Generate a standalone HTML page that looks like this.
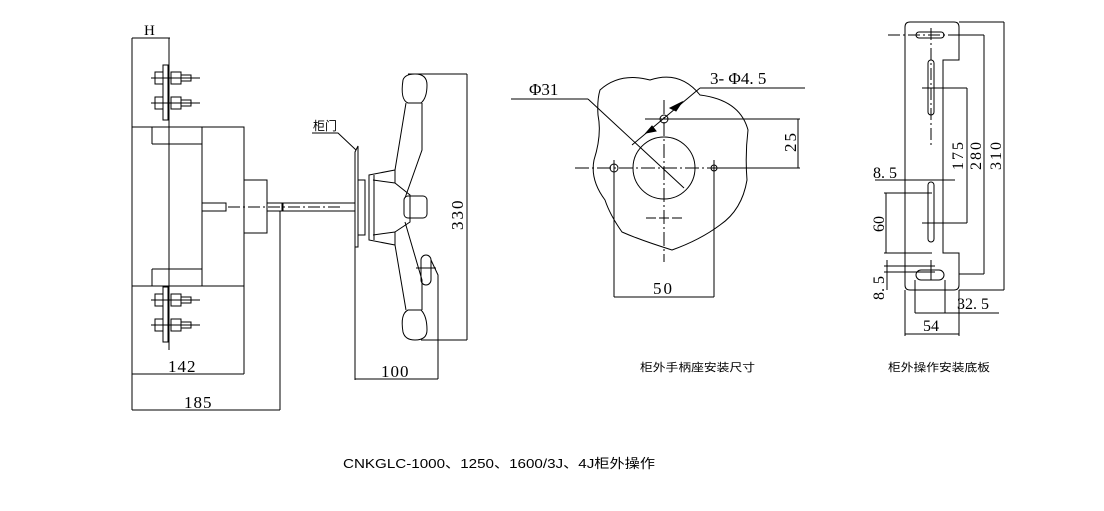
<!DOCTYPE html>
<html><head><meta charset="utf-8"><style>
body{margin:0;background:#fff;}
svg{display:block;}
text{font-family:"Liberation Serif","Noto Serif CJK SC",serif;fill:#000;}
.c{font-family:"Liberation Sans","Noto Sans CJK SC",sans-serif;}
</style></head><body>
<svg width="1104" height="511" viewBox="0 0 1104 511" xmlns="http://www.w3.org/2000/svg" fill="none" stroke="#000" stroke-width="1">
<!-- LEFT VIEW -->
<line x1="132" y1="38" x2="132" y2="410"/>
<line x1="132" y1="38" x2="170" y2="38"/>
<text x="144" y="35" font-size="15" stroke="none">H</text>
<line x1="169" y1="38" x2="169" y2="127"/>
<rect x="132" y="127" width="112" height="159"/>
<line x1="152" y1="127" x2="152" y2="144"/><line x1="152" y1="144" x2="202" y2="144"/>
<line x1="152" y1="269" x2="202" y2="269"/><line x1="152" y1="269" x2="152" y2="286"/>
<line x1="202" y1="127" x2="202" y2="286"/>
<line x1="169" y1="127" x2="169" y2="286"/>
<line x1="132" y1="286" x2="132" y2="374"/>
<line x1="244" y1="286" x2="244" y2="374"/>
<line x1="169" y1="286" x2="169" y2="350"/>
<g>
<rect x="163" y="65" width="5" height="55"/>
<rect x="155" y="72" width="8" height="12"/><rect x="171" y="72" width="10" height="12"/><rect x="181" y="75" width="10" height="6"/>
<line x1="151" y1="78" x2="200" y2="78"/>
<rect x="155" y="97" width="8" height="12"/><rect x="171" y="97" width="10" height="12"/><rect x="181" y="100" width="10" height="6"/>
<line x1="151" y1="103" x2="200" y2="103"/>
<rect x="163" y="287" width="5" height="55"/>
<rect x="155" y="294" width="8" height="12"/><rect x="171" y="294" width="10" height="12"/><rect x="181" y="297" width="10" height="6"/>
<line x1="151" y1="300" x2="200" y2="300"/>
<rect x="155" y="319" width="8" height="12"/><rect x="171" y="319" width="10" height="12"/><rect x="181" y="322" width="10" height="6"/>
<line x1="151" y1="325" x2="200" y2="325"/>
</g>
<line x1="132" y1="374" x2="244" y2="374"/>
<text x="168" y="372" font-size="17" stroke="none" letter-spacing="1">142</text>
<line x1="132" y1="410" x2="280" y2="410"/>
<line x1="280" y1="211" x2="280" y2="410"/>
<text x="184" y="408" font-size="17" stroke="none" letter-spacing="1">185</text>
<rect x="202" y="203" width="24" height="8"/>
<rect x="244" y="180" width="23" height="53"/>
<rect x="267" y="203" width="15" height="8"/>
<rect x="283" y="203" width="72" height="8"/>
<line x1="228" y1="207" x2="340" y2="207" stroke-dasharray="12,3,2,3"/>
<!-- door & wheel -->
<path d="M355 152 L358 146 L358 247 L355 247 Z"/>
<rect x="358" y="180" width="7" height="55"/>
<text x="313" y="130" font-size="12" stroke="none" class="c">柜门</text>
<path d="M312 133 L338 133 L356 150"/>
<path d="M369 175 L395 170 L395 183 L410 195 L410 222 L395 232 L395 245 L369 240 Z"/>
<line x1="373" y1="180" x2="395" y2="183"/><line x1="373" y1="235" x2="395" y2="232"/>
<line x1="374" y1="175" x2="374" y2="240"/>
<rect x="404" y="196" width="23" height="22" rx="4"/>
<path d="M395 170 L406 103 M422 103 L422 150 L405 198"/>
<path d="M395 245 L406 310 M422 310 L422 280 L405 222"/>
<path d="M408 103 Q400 100 403 80 Q405 74 415 74 Q427 74 427 85 Q427 98 421 103 Z"/>
<path d="M408 310 Q400 314 403 332 Q405 340 415 340 Q427 340 427 330 Q427 316 421 310 Z"/>
<rect x="421" y="255" width="10" height="30" rx="5"/>
<line x1="416" y1="268" x2="436" y2="268"/>
<path d="M431 260 L438 275 L438 379"/>
<line x1="408" y1="74" x2="467" y2="74"/><line x1="421" y1="340" x2="467" y2="340"/>
<line x1="467" y1="74" x2="467" y2="340"/>
<text x="0" y="0" font-size="17" stroke="none" transform="translate(463 230) rotate(-90)" letter-spacing="2">330</text>
<line x1="355" y1="247" x2="355" y2="380"/>
<line x1="355" y1="379" x2="438" y2="379"/>
<text x="381" y="377" font-size="17" stroke="none" letter-spacing="1">100</text>
<!-- MIDDLE -->
<path d="M600 90 Q620 72 650 80 Q680 70 700 95 Q740 100 748 130 Q745 155 747 180 Q742 210 720 225 Q700 240 672 250 Q640 240 622 232 Q610 215 605 200 Q590 180 594 160 Q602 135 598 115 Q597 100 600 90 Z"/>
<circle cx="664" cy="168" r="31"/>
<circle cx="664" cy="119" r="4"/><circle cx="614" cy="168" r="4"/><circle cx="714" cy="168" r="3"/>
<line x1="575" y1="168" x2="750" y2="168" stroke-dasharray="14,3,2,3"/>
<line x1="664" y1="100" x2="664" y2="262" stroke-dasharray="14,3,2,3"/>
<line x1="646" y1="218" x2="682" y2="218" stroke-dasharray="10,3"/>
<line x1="645" y1="119" x2="800" y2="119"/>
<line x1="614" y1="160" x2="614" y2="297"/><line x1="714" y1="160" x2="714" y2="297"/>
<line x1="614" y1="297" x2="714" y2="297"/>
<text x="653" y="294" font-size="17" stroke="none" letter-spacing="2">50</text>
<line x1="798" y1="119" x2="798" y2="168"/>
<line x1="714" y1="168" x2="800" y2="168"/>
<text x="0" y="0" font-size="17" stroke="none" transform="translate(796 152) rotate(-90)" letter-spacing="2">25</text>
<line x1="511" y1="99" x2="588" y2="99"/><line x1="588" y1="99" x2="684" y2="188"/>
<text x="529" y="95" font-size="17" stroke="none">Φ31</text>
<line x1="700" y1="88" x2="805" y2="88"/><line x1="700" y1="88" x2="632" y2="145"/>
<path d="M682 102 L676 111 L670 108 Z" fill="#000"/>
<path d="M646 133 L652 126 L656 131 Z" fill="#000"/>
<text x="710" y="84" font-size="17" stroke="none">3- Φ4. 5</text>
<text x="640" y="371" font-size="11" stroke="none" class="c" textLength="115" lengthAdjust="spacingAndGlyphs">柜外手柄座安装尺寸</text>
<!-- RIGHT -->
<path d="M910 22 L954 22 Q959 22 959 27 L959 60 L943 60 L943 253 L959 253 L959 285 Q959 290 954 290 L910 290 Q905 290 905 285 L905 27 Q905 22 910 22 Z"/>
<rect x="916" y="32" width="28" height="6" rx="3"/>
<rect x="928" y="60" width="6" height="55" rx="3"/>
<rect x="928" y="182" width="6" height="60" rx="3"/>
<rect x="916" y="270" width="28" height="10" rx="5"/>
<line x1="888" y1="35" x2="950" y2="35" stroke-dasharray="12,3,2,3"/>
<line x1="931" y1="28" x2="931" y2="148" stroke-dasharray="12,3,2,3"/>
<line x1="931" y1="260" x2="931" y2="280"/>
<line x1="922" y1="88" x2="967" y2="88"/><line x1="967" y1="88" x2="967" y2="223"/>
<line x1="922" y1="223" x2="967" y2="223"/>
<line x1="950" y1="35" x2="984" y2="35"/><line x1="984" y1="35" x2="984" y2="274"/>
<line x1="959" y1="274" x2="984" y2="274"/>
<line x1="959" y1="22" x2="1004" y2="22"/><line x1="1004" y1="22" x2="1004" y2="290"/>
<line x1="959" y1="290" x2="1004" y2="290"/>
<text x="0" y="0" font-size="16" stroke="none" transform="translate(963 170) rotate(-90)" letter-spacing="2">175</text>
<text x="0" y="0" font-size="16" stroke="none" transform="translate(981 170) rotate(-90)" letter-spacing="2">280</text>
<text x="0" y="0" font-size="16" stroke="none" transform="translate(1001 170) rotate(-90)" letter-spacing="2">310</text>
<line x1="875" y1="180" x2="955" y2="180"/>
<text x="873" y="178" font-size="16" stroke="none">8. 5</text>
<line x1="884" y1="193" x2="932" y2="193"/><line x1="884" y1="253" x2="932" y2="253"/>
<line x1="886" y1="193" x2="886" y2="253"/>
<text x="0" y="0" font-size="16" stroke="none" transform="translate(884 232) rotate(-90)">60</text>
<line x1="884" y1="266" x2="935" y2="266"/><line x1="884" y1="272" x2="935" y2="272"/>
<line x1="887" y1="260" x2="887" y2="290"/>
<text x="0" y="0" font-size="16" stroke="none" transform="translate(884 300) rotate(-90)">8. 5</text>
<line x1="915" y1="280" x2="915" y2="313"/><line x1="945" y1="280" x2="945" y2="313"/>
<line x1="915" y1="313" x2="999" y2="313"/>
<text x="957" y="309" font-size="16" stroke="none">32. 5</text>
<line x1="905" y1="290" x2="905" y2="336"/><line x1="959" y1="290" x2="959" y2="336"/>
<line x1="905" y1="334" x2="959" y2="334"/>
<text x="923" y="331" font-size="16" stroke="none">54</text>
<text x="888" y="371" font-size="11" stroke="none" class="c" textLength="102" lengthAdjust="spacingAndGlyphs">柜外操作安装底板</text>
<text x="343" y="468" font-size="13" stroke="none" class="c" textLength="312" lengthAdjust="spacingAndGlyphs">CNKGLC-1000、1250、1600/3J、4J柜外操作</text>
</svg>
</body></html>
